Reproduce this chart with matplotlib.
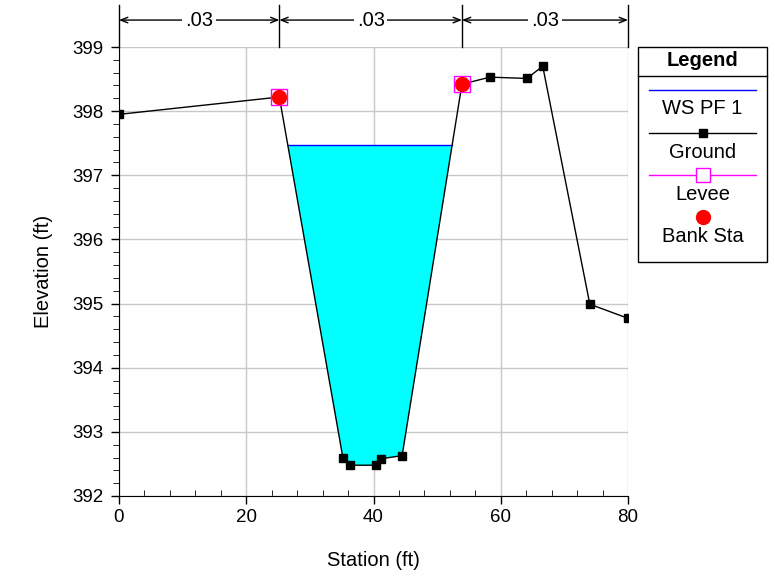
import numpy as np
import matplotlib
matplotlib.use("Agg")
import matplotlib.pyplot as plt
from matplotlib.patches import Rectangle

plt.rcParams['font.family'] = ['Liberation Sans', 'DejaVu Sans']

# Data
station = [0.0, 25.2, 35.2, 36.3, 40.35, 41.2, 44.5, 53.9, 58.3, 64.1, 66.6, 74.0, 80.0]
elevation = [397.95, 398.22, 392.59, 392.48, 392.48, 392.58, 392.63, 398.42, 398.53, 398.51, 398.70, 394.99, 394.77]
bank_sta = [25.2, 53.9]
bank_elev = [398.22, 398.42]
ws_elev = 397.47
n_bounds = [0.0, 25.2, 53.9, 80.0]
n_values = ['.03', '.03', '.03']

TICK_FS = 13.5
LAB_FS = 14.5

W, H = 775, 576
fig = plt.figure(figsize=(W/100, H/100), dpi=100)
ax = fig.add_axes([119/W, 1-496/H, (628-119)/W, (496-47)/H])

ax.set_xlim(0, 80)
ax.set_ylim(392, 399)

# water fill: intersect WS with ground
st = np.array(station); el = np.array(elevation)
imin = int(np.argmin(el))
for i in range(imin, 0, -1):
    if el[i-1] >= ws_elev >= el[i]:
        xl = st[i-1] + (ws_elev-el[i-1])*(st[i]-st[i-1])/(el[i]-el[i-1]); il = i; break
for i in range(imin, len(st)-1):
    if el[i] <= ws_elev <= el[i+1]:
        xr = st[i] + (ws_elev-el[i])*(st[i+1]-st[i])/(el[i+1]-el[i]); ir = i; break
px = [xl] + list(st[il:ir+1]) + [xr]
py = [ws_elev] + list(el[il:ir+1]) + [ws_elev]
ax.fill(px, py, color='#00FFFF', zorder=2, lw=0)
ax.plot([xl, xr], [ws_elev, ws_elev], color='blue', lw=1, zorder=3)

ax.plot(station, elevation, color='black', lw=1, marker='s', ms=6, zorder=4)
ax.plot(bank_sta, bank_elev, ls='none', marker='s', ms=11, mfc='none', mec='magenta', mew=1, zorder=5)
ax.plot(bank_sta, bank_elev, ls='none', marker='o', ms=10, color='red', zorder=6)

ax.set_xticks([0, 20, 40, 60, 80])
ax.set_yticks(range(392, 400))
ax.set_xticks(np.arange(0, 81, 4), minor=True)
ax.set_yticks(np.arange(392, 399.01, 0.2), minor=True)
ax.grid(True, which='major', color='#c8c8c8', lw=1)
ax.set_axisbelow(True)
for s in ['top', 'right']:
    ax.spines[s].set_visible(False)
ax.tick_params(axis='both', which='major', labelsize=TICK_FS, length=6, direction='out', width=1)
ax.tick_params(axis='y', which='major', pad=5)
ax.tick_params(axis='y', which='minor', length=4, direction='out')
ax.tick_params(axis='x', which='minor', length=4, direction='in')
ax.set_xlabel('Station (ft)', fontsize=LAB_FS, labelpad=18)
ax.set_ylabel('Elevation (ft)', fontsize=LAB_FS, labelpad=14)

# Manning's n brackets above plot
y_arrow = 399.42
y_top = 399.66
for b in n_bounds:
    ax.plot([b, b], [399, y_top], color='black', lw=1, clip_on=False)
for i, nv in enumerate(n_values):
    a, b = n_bounds[i], n_bounds[i+1]
    ax.annotate('', xy=(a, y_arrow), xytext=(b, y_arrow),
                arrowprops=dict(arrowstyle='<->,head_length=0.5,head_width=0.2', color='black', lw=1,
                                shrinkA=0, shrinkB=0), annotation_clip=False)
    ax.text((a+b)/2, y_arrow, nv, ha='center', va='center', fontsize=LAB_FS,
            bbox=dict(facecolor='white', edgecolor='none', pad=2), clip_on=False)

# Legend box
lg = fig.add_axes([0, 0, 1, 1], facecolor='none')
lg.set_xlim(0, W); lg.set_ylim(H, 0); lg.axis('off')
lg.add_patch(Rectangle((638, 47), 129, 215, fill=False, ec='black', lw=1))
lg.plot([638, 767], [76, 76], color='black', lw=1)
cx = 702.5
lg.text(cx, 61, 'Legend', ha='center', va='center', fontsize=LAB_FS, fontweight='bold')
lg.plot([649, 756], [90, 90], color='blue', lw=1)
lg.text(cx, 108, 'WS PF 1', ha='center', va='center', fontsize=LAB_FS)
lg.plot([649, 756], [133, 133], color='black', lw=1)
lg.plot([cx], [133], marker='s', color='black', ms=6)
lg.text(cx, 152, 'Ground', ha='center', va='center', fontsize=LAB_FS)
lg.plot([649, 756], [175, 175], color='magenta', lw=1)
lg.plot([cx], [175], marker='s', mfc='white', mec='magenta', ms=10)
lg.text(cx, 194, 'Levee', ha='center', va='center', fontsize=LAB_FS)
lg.plot([cx], [217], marker='o', color='red', ms=10)
lg.text(cx, 236, 'Bank Sta', ha='center', va='center', fontsize=LAB_FS)

fig.savefig('out.png', dpi=100)
